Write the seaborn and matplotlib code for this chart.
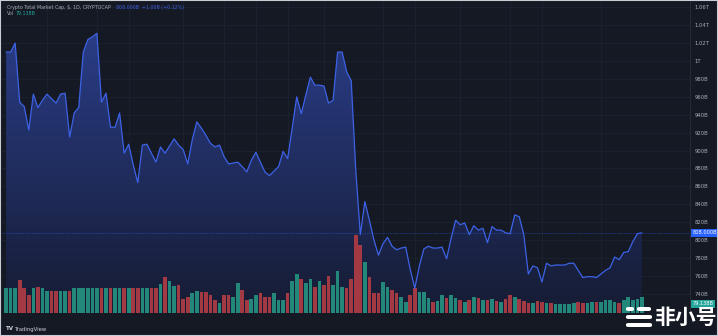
import numpy as np
import pandas as pd
import matplotlib
matplotlib.use("Agg")
import matplotlib.pyplot as plt
import matplotlib.dates as mdates
import matplotlib.transforms as mtransforms
from matplotlib.patches import PathPatch, Rectangle, FancyBboxPatch
from matplotlib.colors import LinearSegmentedColormap
import seaborn as sns

# ---------------- data ----------------
start_date = "2022-08-23"
market_cap_b = [1010, 1010, 1020, 954, 949, 923, 963, 948, 956, 963,
                958, 953, 963, 964, 915, 942, 948, 1010, 1024, 1027,
                1031, 954, 964, 926, 926, 942, 897, 907, 884, 864,
                906, 907, 897, 887, 904, 897, 905, 913, 906, 901,
                885, 912, 932, 925, 917, 908, 904, 906, 893, 885,
                886, 887, 882, 876, 889, 898, 887, 876, 872, 877,
                882, 899, 891, 925, 960, 941, 962, 982, 973, 973,
                972, 953, 956, 1010, 1010, 988, 978, 878, 806, 843,
                822, 800, 783, 796, 803, 793, 789, 791, 792, 767,
                746, 771, 790, 793, 791, 791, 792, 779, 802, 822,
                817, 819, 806, 816, 811, 813, 797, 815, 811, 811,
                808, 807, 828, 826, 806, 762, 771, 769, 753, 774,
                771, 772, 772, 772, 774, 774, 766, 758, 759, 759,
                758, 762, 766, 769, 781, 778, 786, 787, 798, 807,
                808]
volume_b = [125, 125, 125, 165, 125, 90, 125, 130, 125, 110,
            110, 110, 110, 110, 110, 125, 125, 125, 125, 125,
            125, 125, 125, 125, 125, 125, 125, 125, 125, 125,
            125, 125, 125, 125, 145, 180, 160, 135, 140, 70,
            80, 100, 110, 105, 105, 90, 65, 50, 90, 90,
            80, 150, 115, 65, 70, 90, 100, 80, 80, 100,
            65, 65, 100, 160, 195, 170, 150, 170, 130, 160,
            140, 185, 140, 210, 130, 125, 170, 390, 340, 255,
            180, 100, 100, 155, 130, 115, 100, 80, 55, 90,
            125, 105, 105, 75, 55, 60, 90, 75, 90, 75,
            65, 55, 65, 80, 75, 65, 65, 70, 60, 55,
            70, 90, 80, 70, 60, 50, 50, 60, 55, 50,
            50, 45, 45, 45, 45, 50, 55, 50, 50, 55,
            55, 55, 65, 65, 55, 50, 65, 80, 65, 70,
            79.138]
tick_dates = ["2022-09-01", "2022-09-12", "2022-09-19", "2022-10-01", "2022-10-10",
              "2022-10-17", "2022-10-24", "2022-11-01", "2022-11-14", "2022-11-21",
              "2022-12-01", "2022-12-12", "2022-12-19", "2023-01-01"]
tick_labels = ["Sep", "12", "19", "Oct", "10", "17", "24", "Nov", "14", "21",
               "Dec", "12", "19", "2023"]
price_ticks = list(range(740, 1061, 20))

# ---------------- style ----------------
BG = "#151924"
GRID = "#1d2230"
TXT = "#a9adb8"
LINE = "#3d62e6"
UP = "#238779"
DOWN = "#a33a43"

sns.set_style("dark", {"axes.facecolor": BG, "figure.facecolor": BG})
plt.rcParams["font.family"] = ["DejaVu Sans"]

dates = pd.date_range(start_date, periods=len(market_cap_b), freq="D")
xnum = mdates.date2num(dates)
direction = ["up"] + ["up" if market_cap_b[i] >= market_cap_b[i - 1] else "down"
                      for i in range(1, len(market_cap_b))]
df = pd.DataFrame({"x": xnum, "cap": market_cap_b, "vol": volume_b, "dir": direction})

fig = plt.figure(figsize=(7.18, 3.36), dpi=100, facecolor=BG)
left, right, bottom, top = 2 / 718, 690 / 718, 1 - 313 / 336, 1.0
ax_p = fig.add_axes([left, bottom, right - left, top - bottom])
ax_p.set_facecolor(BG)

YMIN, YMAX = 718.4, 1068.2
XMIN, XMAX = xnum[0] - 0.9, xnum[0] + 150.6

# gradient area under the line
fill = ax_p.fill_between(xnum, market_cap_b, YMIN, facecolor="none", edgecolor="none")
patch = PathPatch(fill.get_paths()[0], transform=ax_p.transData, facecolor="none", edgecolor="none")
ax_p.add_patch(patch)
grad = np.linspace(1, 0, 256).reshape(-1, 1)
cmap = LinearSegmentedColormap.from_list("g", ["#161c33", "#2a3d88"])
img = ax_p.imshow(grad, extent=[xnum[0], xnum[-1], YMIN, 1035], aspect="auto",
                  cmap=cmap, origin="upper", zorder=1, interpolation="bicubic")
img.set_clip_path(patch)

# grid
for v in price_ticks:
    ax_p.axhline(v, color=GRID, lw=0.6, zorder=0)
for d in tick_dates:
    ax_p.axvline(mdates.date2num(pd.Timestamp(d)), color=GRID, lw=0.6, zorder=0)
ax_p.set_ylim(YMIN, YMAX)
ax_p.set_yticks([])

# volume
ax_v = ax_p.twinx()
sns.barplot(data=df, x="x", y="vol", hue="dir", palette={"up": UP, "down": DOWN},
            native_scale=True, dodge=False, width=0.8, saturation=1, legend=False,
            ax=ax_v, linewidth=0)
ax_v.set_ylim(0, 313 * 5)
ax_v.set_yticks([])
ax_v.set_ylabel("")

# price line
ax_l = ax_p.twinx()
sns.lineplot(data=df, x="x", y="cap", color=LINE, lw=0.9, ax=ax_l)
ax_l.set_ylim(YMIN, YMAX)
ax_l.set_yticks(price_ticks)
ax_l.set_yticklabels([f"{v/1000:g}T" if v >= 1000 else f"{v}B" for v in price_ticks])
ax_l.yaxis.tick_right()
ax_l.tick_params(axis="y", length=0, pad=3, labelsize=3.8, labelcolor=TXT)
ax_l.set_ylabel("")
last = market_cap_b[-1]
ax_l.axhline(last, color="#2962ff", lw=0.5, ls=(0, (1, 1.5)), alpha=0.8)

for a in (ax_p, ax_v, ax_l):
    a.set_xlim(XMIN, XMAX)
    for s in a.spines.values():
        s.set_visible(False)
ax_l.spines["right"].set_visible(True)
ax_l.spines["right"].set_color("#2a2e39")
ax_l.spines["right"].set_linewidth(0.6)

ax_p.set_xticks(mdates.date2num(pd.to_datetime(tick_dates)))
ax_p.set_xticklabels(tick_labels)
ax_p.tick_params(axis="x", length=0, pad=2.2, labelsize=3.8, labelcolor=TXT)
ax_v.set_xticks([]); ax_l.set_xticks([])
ax_v.set_xlabel(""); ax_l.set_xlabel(""); ax_p.set_xlabel("")

# last-value tags
trans = mtransforms.blended_transform_factory(ax_l.transAxes, ax_l.transData)
ax_l.text(1.004, last, f"{last:.3f}B", transform=trans, ha="left", va="center",
          fontsize=3.6, color="white", clip_on=False,
          bbox=dict(boxstyle="square,pad=0.3", fc="#2962ff", ec="none"))
transv = mtransforms.blended_transform_factory(ax_v.transAxes, ax_v.transData)
ax_v.text(1.004, volume_b[-1] * 0.6, f"{volume_b[-1]:.3f}B", transform=transv, ha="left",
          va="center", fontsize=3.6, color="white", clip_on=False,
          bbox=dict(boxstyle="square,pad=0.3", fc="#26a69a", ec="none"))

# legend texts
chg = market_cap_b[-1] - market_cap_b[-2]
pct = chg / market_cap_b[-2] * 100
fig.text(7 / 718, 1 - 7 / 336, "Crypto Total Market Cap, $, 1D, CRYPTOCAP", fontsize=3.4,
         color=TXT, va="center", ha="left")
fig.text(116 / 718, 1 - 7 / 336, f"{last:.3f}B  {chg:+.2f}B ({pct:+.2f}%)", fontsize=3.4,
         color="#3d62e6", va="center", ha="left")
fig.text(7 / 718, 1 - 13.5 / 336, "Vol", fontsize=3.4, color=TXT, va="center", ha="left")
fig.text(16 / 718, 1 - 13.5 / 336, f"{volume_b[-1]:.3f}B", fontsize=3.4, color="#26a69a",
         va="center", ha="left")

# TradingView footer
fig.text(6 / 718, 1 - 329 / 336, "TV", fontsize=4, color="#d1d4dc", va="center",
         ha="left", fontweight="bold")
fig.text(15 / 718, 1 - 329 / 336, "TradingView", fontsize=3.8, color="#d1d4dc",
         va="center", ha="left")

# watermark
fig.text(685 / 718, 1 - 317 / 336, "非小号", fontsize=15, color="white", fontweight="bold",
         va="center", ha="center", family=["Noto Sans CJK SC", "DejaVu Sans"])
for (x0, y0, w) in [(626, 307, 8), (637, 307, 14), (626, 315, 26), (626, 323, 26)]:
    fig.patches.append(FancyBboxPatch((x0 / 718, 1 - (y0 + 4) / 336), w / 718, 4 / 336,
                                      boxstyle="round,pad=0,rounding_size=0.004",
                                      transform=fig.transFigure, fc="white", ec="none"))

# outer border
fig.patches.append(Rectangle((0, 0), 1, 1, transform=fig.transFigure, fill=False,
                             ec="#c9ccd2", lw=1.5))

fig.savefig("out.png", dpi=100, facecolor=BG)
